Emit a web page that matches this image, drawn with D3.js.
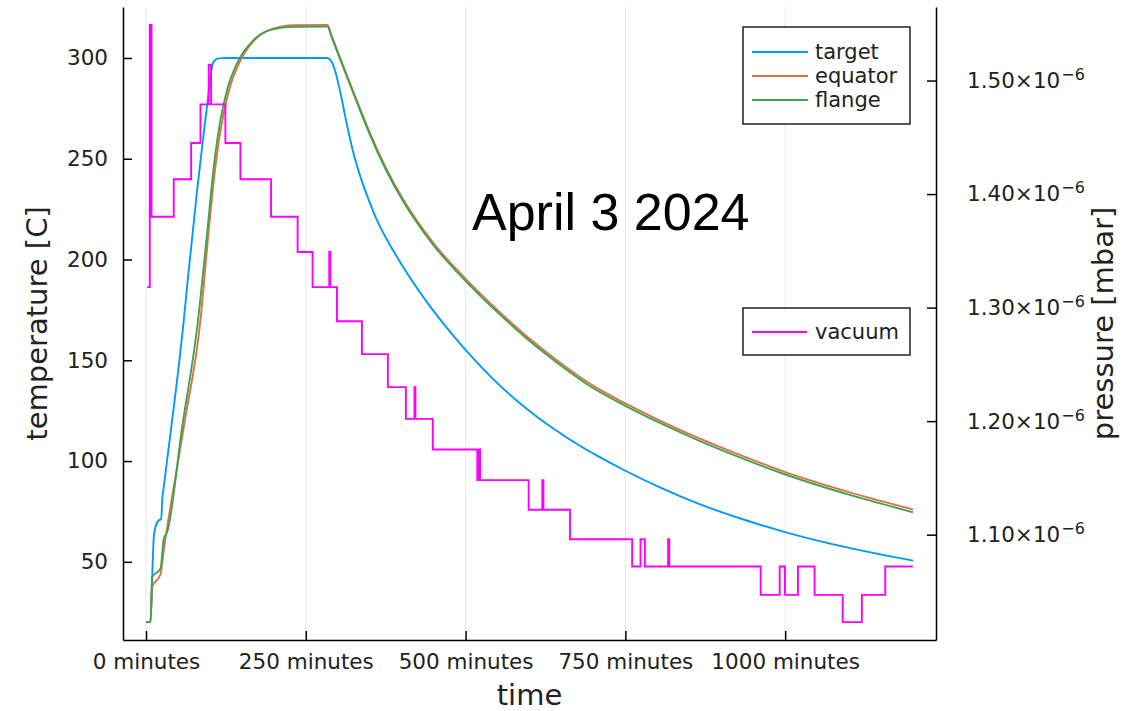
<!DOCTYPE html>
<html><head><meta charset="utf-8">
<script src="https://cdn.jsdelivr.net/npm/d3@7"></script>
<style>body{margin:0;background:#fff} svg text{font-family:"DejaVu Sans",sans-serif}</style>
</head><body><svg id="c" width="1131" height="711"></svg>
<script>
// ---------- data (time in minutes, temperature in C, pressure in mbar) ----------
const targetTime = [0,7,9.7,12.2,14.8,20,23.8,25.3,27.8,59.1,64.4,80,90.3,96.6,101.9,105.9,113.8,125,200,284,289,294,304,314,324,335,348,361,387,403,439,470,502,538,596,640,684,700,750,804,866,930,997,1100,1200];
const targetTemp = [20.1,20.1,42.5,62.3,67.3,70.6,71.1,80.5,87.1,169.9,187,234.5,262.6,279.1,293.2,298.2,299.8,300,300,300,298.8,295.5,283,267.5,253.5,241.5,230,219.8,204.3,195.9,179.1,166.3,154.4,142.3,125.8,115.5,106.6,103.7,95.2,86.9,78.6,71.5,65.0,56.9,50.6];

const equatorTime = [0,7,9.7,22.7,27.8,59.1,85.2,98,108.5,119,129.5,145,170,196,231,284,290,300,312,325,338,351,375,403,424,450,502,550,596,650,700,750,804,866,930,997,1100,1200];
const equatorTemp = [20.1,20.1,37.5,43.8,55.7,116.9,169.9,214,246,268.5,283.5,297,309,314.2,316.2,316.4,311.5,303.2,293.4,282.8,272.4,262.3,245.7,229.5,219.2,208,189.8,174.9,161.8,148.3,137.3,128.6,120.1,111.2,102.9,94.9,84.6,76.0];

const flangeTime = [0,7,9.7,22.7,27.8,33.1,56.6,80.5,95.6,106,116.4,126.9,142.5,168.4,194.5,231,284,290,300,312,325,338,351,375,403,424,450,502,550,596,650,700,750,804,866,930,997,1100,1200];
const flangeTemp = [20.1,20.1,42.5,46.6,61.5,64.8,116.9,167.5,213,246,269.2,284.1,297.4,308.9,313.9,315.5,315.6,310.7,302.4,292.6,282,271.5,261.4,244.8,228.5,218.2,207,188.7,173.8,160.7,147.2,136.1,127.4,118.9,110,101.7,93.7,83.3,74.6];

const vacuumTime = [1.9,5.9,8.6,43.4,70.6,85.2,98.1,101.8,124.2,147.7,195.6,237.2,260.6,286.7,288.5,298.8,337.8,378.4,406.6,420,421.5,448.7,518.4,520.5,522.6,598.7,620,621.8,663.3,760.6,773.7,780.5,816.9,818.7,961.7,991.4,999.7,1020,1046,1090,1120,1156.6,1199.7];
const vacuumPressure = [1.318e-6,1.549e-6,1.380e-6,1.413e-6,1.445e-6,1.479e-6,1.514e-6,1.479e-6,1.445e-6,1.413e-6,1.380e-6,1.349e-6,1.318e-6,1.349e-6,1.318e-6,1.288e-6,1.259e-6,1.230e-6,1.202e-6,1.230e-6,1.202e-6,1.175e-6,1.148e-6,1.175e-6,1.148e-6,1.122e-6,1.148e-6,1.122e-6,1.096e-6,1.072e-6,1.096e-6,1.072e-6,1.096e-6,1.072e-6,1.047e-6,1.072e-6,1.047e-6,1.072e-6,1.047e-6,1.023e-6,1.047e-6,1.072e-6,1.072e-6];

const timeTicks = [0,250,500,750,1000];
const timeTickLabels = ["0 minutes","250 minutes","500 minutes","750 minutes","1000 minutes"];
const tempTicks = [50,100,150,200,250,300];
const pressureTicks = [1.1e-6,1.2e-6,1.3e-6,1.4e-6,1.5e-6];
const pressureTickMantissa = ["1.10","1.20","1.30","1.40","1.50"];
const pressureTickExponent = "−6";

const tempSeries = [
  {name:"target", t:targetTime, v:targetTemp, color:"#009AFA"},
  {name:"equator", t:equatorTime, v:equatorTemp, color:"#E36F47"},
  {name:"flange", t:flangeTime, v:flangeTemp, color:"#3EA44E"}
];
const vacuumColor = "#FF00FF";
const titleText = "April 3 2024";

// ---------- layout ----------
const L = 123, R = 936, T = 7, B = 640;
const pad = (ext) => { const r = ext[1]-ext[0]; return [ext[0]-0.03*r, ext[1]+0.03*r]; };

const allT = [...targetTime, ...equatorTime, ...flangeTime, ...vacuumTime];
const allTemp = [...targetTemp, ...equatorTemp, ...flangeTemp];

const x = d3.scaleLinear().domain(pad(d3.extent(allT))).range([L, R]);
const yT = d3.scaleLinear().domain(pad(d3.extent(allTemp))).range([B, T]);
const yP = d3.scaleLinear().domain(pad(d3.extent(vacuumPressure))).range([B, T]);

const svg = d3.select("#c");
svg.append("rect").attr("width",1131).attr("height",711).attr("fill","#fff");

// grid (vertical only)
svg.append("g").selectAll("line").data(timeTicks).join("line")
  .attr("x1", d=>x(d)).attr("x2", d=>x(d)).attr("y1", T).attr("y2", B)
  .attr("stroke","#000").attr("stroke-opacity",0.09).attr("stroke-width",1);

// temperature lines
const lineT = d3.line().x(d=>x(d[0])).y(d=>yT(d[1])).curve(d3.curveMonotoneX);
tempSeries.forEach(s => {
  svg.append("path").datum(s.t.map((t,i)=>[t,s.v[i]]))
    .attr("d", lineT).attr("fill","none").attr("stroke", s.color)
    .attr("stroke-width",1.9).attr("stroke-linejoin","round");
});

// vacuum line
const lineP = d3.line().x(d=>x(d[0])).y(d=>yP(d[1])).curve(d3.curveStepAfter);
svg.append("path").datum(vacuumTime.map((t,i)=>[t,vacuumPressure[i]]))
  .attr("d", lineP).attr("fill","none").attr("stroke", vacuumColor)
  .attr("stroke-width",1.9);

// axes
const styleAxis = g => {
  g.attr("font-size", null).attr("font-family", null);
  g.selectAll(".domain").attr("stroke","#000").attr("stroke-width",1.5);
  g.selectAll(".tick line").attr("stroke","#000").attr("stroke-width",1.5);
  g.selectAll(".tick text").attr("fill","#222").style("font-size","21.5px");
};

const gx = svg.append("g").attr("transform",`translate(0,${B})`)
  .call(d3.axisBottom(x).tickValues(timeTicks).tickFormat((d,i)=>timeTickLabels[i])
        .tickSizeInner(-9).tickSizeOuter(0).tickPadding(14));
styleAxis(gx);

const gl = svg.append("g").attr("transform",`translate(${L},0)`)
  .call(d3.axisLeft(yT).tickValues(tempTicks).tickSizeInner(-9).tickSizeOuter(0).tickPadding(15));
styleAxis(gl);

const gr = svg.append("g").attr("transform",`translate(${R},0)`)
  .call(d3.axisRight(yP).tickValues(pressureTicks).tickSizeInner(-9).tickSizeOuter(0).tickPadding(31));
styleAxis(gr);
gr.selectAll(".tick text").each(function(d,i){
  const t = d3.select(this); t.text(null);
  t.append("tspan").text(pressureTickMantissa[i] + "×10");
  t.append("tspan").attr("dy","-0.5em").attr("dx","1").style("font-size","16px").text(pressureTickExponent);
});

// axis labels
svg.append("text").attr("x",(L+R)/2).attr("y",705).attr("text-anchor","middle")
  .style("font-size","29px").attr("fill","#222").text("time");
svg.append("text").attr("transform",`translate(47,${(T+B)/2}) rotate(-90)`).attr("text-anchor","middle")
  .style("font-size","29px").attr("fill","#222").text("temperature [C]");
svg.append("text").attr("transform",`translate(1113,${(T+B)/2}) rotate(-90)`).attr("text-anchor","middle")
  .style("font-size","29px").attr("fill","#222").text("pressure [mbar]");

// legend 1
const lg = svg.append("g");
lg.append("rect").attr("x",743).attr("y",27).attr("width",167).attr("height",97)
  .attr("fill","#fff").attr("stroke","#222").attr("stroke-width",1.5);
tempSeries.forEach((s,i)=>{
  const yy = 52 + i*24;
  lg.append("line").attr("x1",752).attr("x2",808).attr("y1",yy).attr("y2",yy)
    .attr("stroke",s.color).attr("stroke-width",1.9);
  lg.append("text").attr("x",815).attr("y",yy).attr("dy","0.35em")
    .style("font-size","21px").attr("fill","#222").text(s.name);
});
// legend 2
const lg2 = svg.append("g");
lg2.append("rect").attr("x",743).attr("y",308).attr("width",167).attr("height",47)
  .attr("fill","#fff").attr("stroke","#222").attr("stroke-width",1.5);
lg2.append("line").attr("x1",752).attr("x2",807).attr("y1",332).attr("y2",332)
  .attr("stroke",vacuumColor).attr("stroke-width",1.9);
lg2.append("text").attr("x",815).attr("y",332).attr("dy","0.35em")
  .style("font-size","21px").attr("fill","#222").text("vacuum");

// title annotation
svg.append("text").attr("x",472).attr("y",230)
  .style("font-family","'Liberation Sans', Arial, sans-serif").style("font-size","52px")
  .attr("fill","#000").text(titleText);
</script></body></html>
